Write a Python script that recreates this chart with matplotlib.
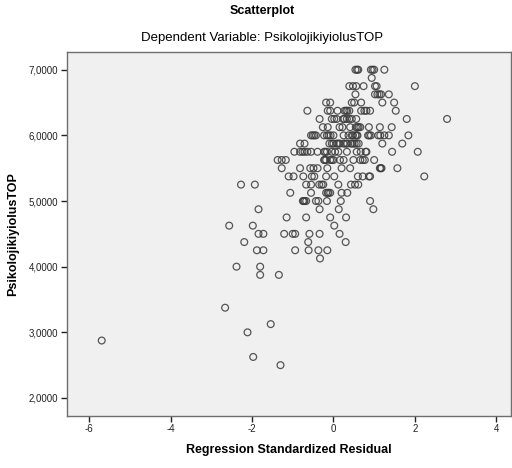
import matplotlib
matplotlib.use("Agg")
import matplotlib.pyplot as plt
import numpy as np

# Dependent variable levels (multiples of 0.125) and standardized residuals read per level
score_levels = [7.0, 6.875, 6.75, 6.625, 6.5, 6.375, 6.25, 6.125, 6.0, 5.875, 5.75,
                5.625, 5.5, 5.375, 5.25, 5.125, 5.0, 4.875, 4.75, 4.625, 4.5, 4.375,
                4.25, 4.125, 4.0, 3.875, 3.375, 3.125, 3.0, 2.875, 2.625, 2.5]
residual_rows = [
    [0.54, 0.58, 0.61, 0.92, 0.96, 1.0, 1.25],
    [0.94],
    [0.39, 0.48, 0.56, 0.74, 1.02, 1.06, 2.0],
    [0.54, 1.02, 1.08, 1.13, 1.17, 1.36],
    [-0.18, -0.08, 0.45, 0.51, 0.68, 1.2, 1.49],
    [-0.64, -0.14, -0.08, 0.10, 0.27, 0.31, 0.34, 0.39, 0.68, 0.76, 0.81, 0.90, 1.53],
    [-0.34, -0.04, 0.02, 0.08, 0.24, 0.27, 0.33, 0.39, 0.45, 0.56, 1.80, 2.79],
    [-0.26, -0.14, 0.15, 0.22, 0.41, 0.55, 0.59, 0.62, 0.66, 0.87, 1.14, 1.43],
    [-0.55, -0.51, -0.47, -0.43, -0.23, -0.16, -0.12, -0.07, 0.0, 0.25, 0.37, 0.45,
     0.48, 0.54, 0.57, 0.59, 0.85, 0.88, 0.92, 1.10, 1.15, 1.25, 1.36, 1.84],
    [-0.82, -0.71, -0.10, -0.04, 0.0, 0.08, 0.12, 0.16, 0.25, 0.30, 0.34, 0.43, 0.47,
     0.52, 0.57, 0.62, 1.2, 1.69],
    [-0.96, -0.82, -0.76, -0.71, -0.64, -0.55, -0.39, -0.23, -0.20, -0.16, -0.04,
     0.04, 0.12, 0.33, 0.57, 0.67, 0.79, 0.81, 1.44, 2.07],
    [-1.37, -1.27, -1.17, -0.23, -0.21, -0.18, -0.08, -0.04, 0.0, 0.16, 0.25, 0.49,
     0.66, 0.72, 0.77, 1.0],
    [-1.27, -0.82, -0.57, -0.49, -0.39, -0.15, 0.2, 0.41, 1.14, 1.16, 1.18, 1.57],
    [-1.1, -0.98, -0.74, -0.53, -0.47, -0.18, 0.02, 0.60, 0.72, 0.87, 0.90, 2.23],
    [-2.27, -1.93, -0.67, -0.55, -0.35, -0.29, -0.25, 0.12, 0.43, 0.53, 0.61],
    [-1.06, -0.55, -0.18, -0.14, -0.12, -0.08, 0.2, 0.34],
    [-0.75, -0.73, -0.71, -0.67, -0.43, -0.37, -0.16, 0.18, 0.90],
    [-1.84, -0.34, 0.13, 0.98],
    [-1.15, -0.67, -0.08, 0.31],
    [-2.56, -1.98, 0.02],
    [-1.84, -1.72, -1.21, -1.0, -0.94, -0.59, -0.34, 0.15],
    [-2.19, -0.62, 0.30],
    [-1.88, -1.72, -0.94, -0.61, -0.37, -0.15],
    [-0.33],
    [-2.38, -1.80],
    [-1.80, -1.34],
    [-2.66],
    [-1.54],
    [-2.11],
    [-5.69],
    [-1.97],
    [-1.30],
]

residual = np.concatenate([np.array(r) for r in residual_rows])
score = np.concatenate([[lvl] * len(r) for lvl, r in zip(score_levels, residual_rows)])

x_ticks = [-6, -4, -2, 0, 2, 4]
y_ticks = [2, 3, 4, 5, 6, 7]
y_tick_labels = ["2,0000", "3,0000", "4,0000", "5,0000", "6,0000", "7,0000"]

plt.rcParams['font.family'] = ['Liberation Sans', 'DejaVu Sans']

fig = plt.figure(figsize=(5.12, 4.68), dpi=100)
ax = fig.add_axes([66.7 / 512, 1 - 415.7 / 468, (511 - 66.7) / 512, (415.7 - 52) / 468])
ax.set_facecolor('#f0f0f0')

ax.scatter(residual, score, s=24, facecolors='none', edgecolors='#3a3a3a',
           linewidths=0.9, alpha=0.85, zorder=3)

ax.set_xlim(-6.55, 4.36)
ax.set_ylim(1.73, 7.27)
ax.set_xticks(x_ticks)
ax.set_xticklabels([str(t) for t in x_ticks])
ax.set_yticks(y_ticks)
ax.set_yticklabels(y_tick_labels)
ax.tick_params(direction='out', length=4, width=1, colors='#222222', labelsize=7, pad=2)
for sp in ax.spines.values():
    sp.set_color('#6e6e6e')
    sp.set_linewidth(1.0)

ax.set_xlabel('Regression Standardized Residual', fontsize=9, fontweight='bold', labelpad=7)
ax.set_ylabel('PsikolojikiyiolusTOP', fontsize=9, fontweight='bold', labelpad=7)

fig.text(262 / 512, 1 - 11 / 468, 'Scatterplot', ha='center', va='center', fontsize=9, fontweight='bold')
fig.text(262 / 512, 1 - 38 / 468, 'Dependent Variable: PsikolojikiyiolusTOP', ha='center', va='center', fontsize=9.5)

fig.savefig('out.png', dpi=100, facecolor='white')
